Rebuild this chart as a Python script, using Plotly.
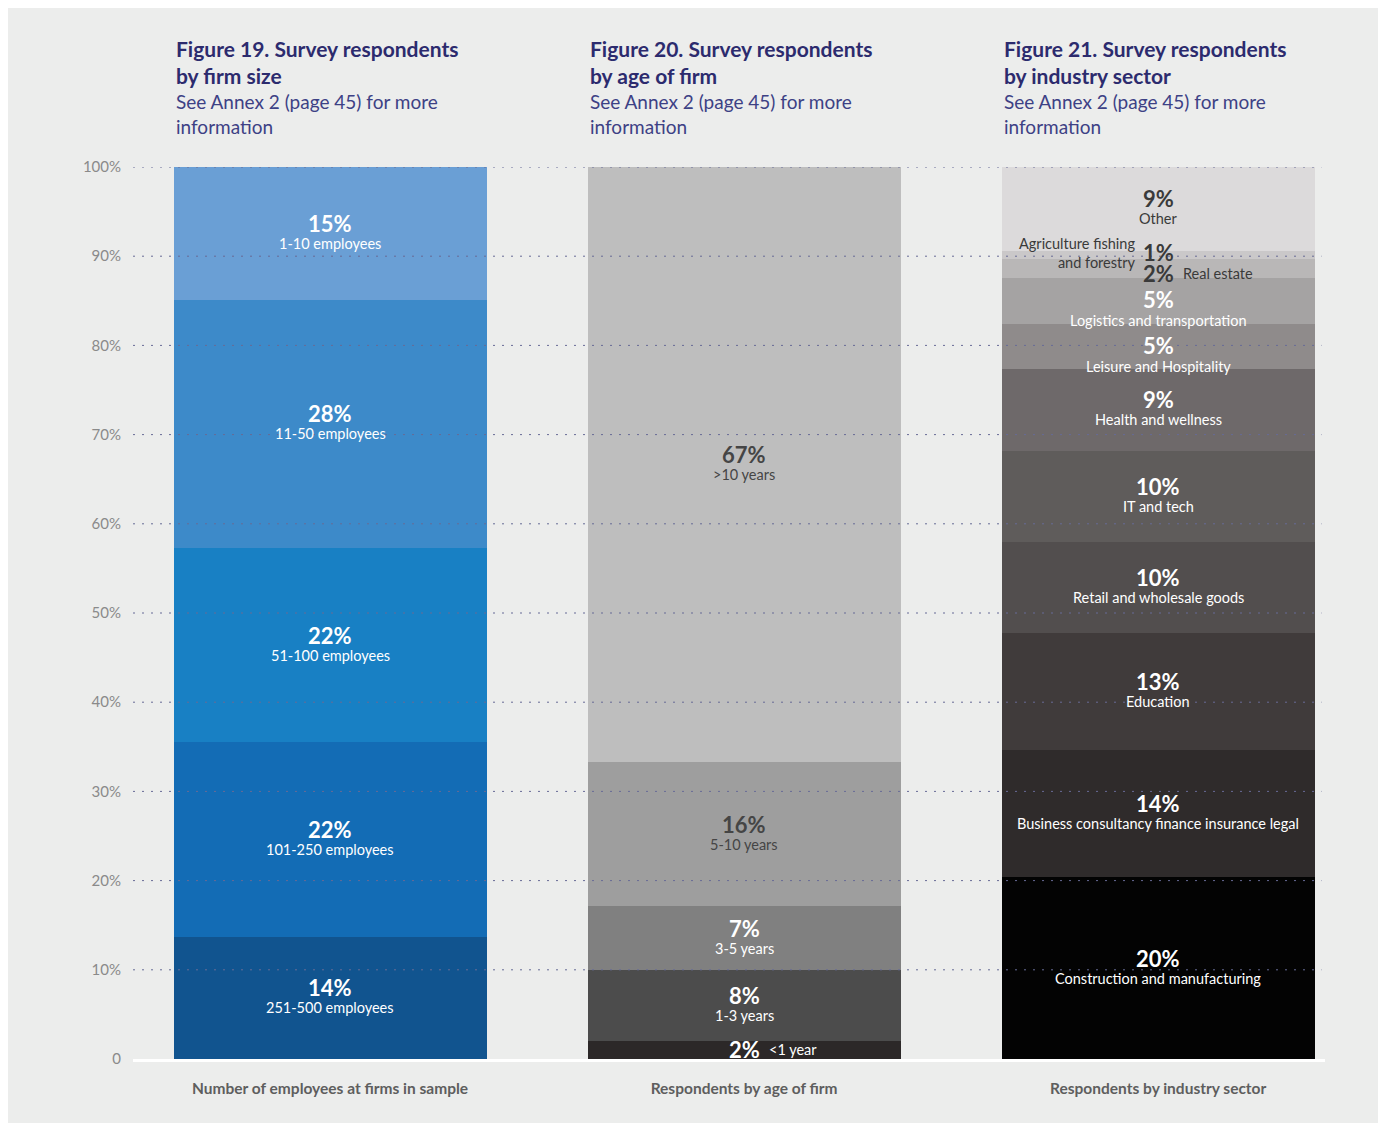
import plotly.graph_objects as go

# ----- Data (bottom segment first) ----- #

bar_names = ["Number of employees at firms in sample",
             "Respondents by age of firm",
             "Respondents by industry sector"]

titles = ["Figure 19. Survey respondents<br>by firm size",
          "Figure 20. Survey respondents<br>by age of firm",
          "Figure 21. Survey respondents<br>by industry sector"]
subtitle = "See Annex 2 (page 45) for more<br>information"

size_labels = ["251-500 employees", "101-250 employees", "51-100 employees",
               "11-50 employees", "1-10 employees"]
size_values = [13.7, 21.8, 21.8, 27.8, 14.9]

age_labels = ["<1 year", "1-3 years", "3-5 years", "5-10 years", ">10 years"]
age_values = [2.0, 8.0, 7.1, 16.2, 66.7]

sector_labels = ["Construction and manufacturing",
                 "Business consultancy finance insurance legal",
                 "Education", "Retail and wholesale goods", "IT and tech",
                 "Health and wellness", "Leisure and Hospitality",
                 "Logistics and transportation", "Real estate",
                 "Agriculture fishing<br>and forestry", "Other"]
sector_values = [20.4, 14.2, 13.2, 10.2, 10.2, 9.2, 5.0, 5.2, 2.1, 0.9, 9.4]

y_ticks = [0, 10, 20, 30, 40, 50, 60, 70, 80, 90, 100]
y_ticktext = ["0", "10%", "20%", "30%", "40%", "50%", "60%", "70%", "80%", "90%", "100%"]

# ----- Styles ----- #

size_colors = ["#11548f", "#136cb5", "#1880c4", "#3d8ac9", "#6a9fd5"]
age_colors = ["#2c2828", "#4c4c4c", "#808080", "#9e9e9e", "#bebebe"]
sector_colors = ["#030303", "#2f2b2b", "#403b3b", "#524e4e", "#5f5c5b", "#6e696a",
                 "#8f8b8b", "#a5a3a3", "#b9b7b7", "#cac8c9", "#dcdadb"]

size_text = ["white"] * 5
age_text = ["white", "white", "white", "#454545", "#454545"]
sector_text = ["white"] * 8 + ["#3a3a3a", "#3a3a3a", "#3a3a3a"]

# label placement: c = stacked under pct, r = right of pct, l = left of pct
size_mode = ["c"] * 5
age_mode = ["r", "c", "c", "c", "c"]
sector_mode = ["c"] * 8 + ["r", "l", "c"]

FONT = "Lato"
bar_w = 0.756

groups = [
    (size_labels, size_values, size_colors, size_text, size_mode),
    (age_labels, age_values, age_colors, age_text, age_mode),
    (sector_labels, sector_values, sector_colors, sector_text, sector_mode),
]

fig = go.Figure()
annotations = []

for i, (labels, values, colors, tcolors, modes) in enumerate(groups):
    cum = 0
    for lab, v, c, tc, m in zip(labels, values, colors, tcolors, modes):
        fig.add_trace(go.Bar(x=[i], y=[v], width=bar_w, marker_color=c,
                             marker_line_width=0, showlegend=False,
                             hoverinfo="skip"))
        yc = cum + v / 2
        cum += v
        pct = "<b>%d%%</b>" % round(v)
        if m == "c":
            small = v < 6
            annotations.append(dict(x=i, y=yc, text=pct, showarrow=False,
                                    yanchor="middle", yshift=1 if small else 10,
                                    font=dict(family=FONT, size=22, color=tc)))
            annotations.append(dict(x=i, y=yc, text=lab, showarrow=False,
                                    yanchor="middle", yshift=-20 if small else -10,
                                    font=dict(family=FONT, size=14.5, color=tc)))
        else:
            # small slices: label sits beside the percentage
            ys = 1
            if i == 2:
                ys = -5 if m == "r" else 2
            annotations.append(dict(x=i, y=yc, text=pct, showarrow=False,
                                    yanchor="middle", yshift=ys,
                                    font=dict(family=FONT, size=22, color=tc)))
            annotations.append(dict(x=i, y=yc, text=lab, showarrow=False,
                                    yanchor="middle",
                                    xanchor="left" if m == "r" else "right",
                                    align="right" if m == "l" else "left",
                                    xshift=23 if m == "r" else -21,
                                    yshift=ys,
                                    font=dict(family=FONT, size=14.5, color=tc)))

    # titles above each bar
    annotations.append(dict(x=i - bar_w / 2, y=1.149, xref="x", yref="paper",
                            xanchor="left", yanchor="top", align="left",
                            xshift=0, text="<b>" + titles[i] + "</b>",
                            showarrow=False,
                            font=dict(family=FONT, size=21, color="#2c2b6e")))
    annotations.append(dict(x=i - bar_w / 2, y=1.089, xref="x", yref="paper",
                            xanchor="left", yanchor="top", align="left",
                            xshift=0, text=subtitle, showarrow=False,
                            font=dict(family=FONT, size=19, color="#3d4185")))

# dotted gridlines drawn over the bars
shapes = []
for t in y_ticks[1:]:
    shapes.append(dict(type="line", xref="paper", x0=0, x1=0.997, yref="y",
                       y0=t, y1=t, layer="above",
                       line=dict(color="#676b96", width=1, dash="2px,7px")))

fig.update_layout(
    width=1370, height=1115,
    margin=dict(l=125, r=53, t=159, b=64),
    barmode="stack",
    bargap=0,
    paper_bgcolor="#ecedec",
    plot_bgcolor="rgba(0,0,0,0)",
    font=dict(family=FONT),
    annotations=annotations,
    shapes=shapes,
)

fig.update_xaxes(range=[-0.476, 2.403], tickvals=[0, 1, 2],
                 ticktext=["<b>" + n + "</b>" for n in bar_names],
                 showgrid=False, zeroline=False,
                 showline=True, linecolor="white", linewidth=3,
                 ticks="outside", ticklen=13, tickcolor="rgba(0,0,0,0)",
                 tickfont=dict(family=FONT, size=15.5, color="#5e5e5e"))

fig.update_yaxes(range=[0, 100], tickvals=y_ticks, ticktext=y_ticktext,
                 showgrid=False, zeroline=False, showline=False,
                 ticks="outside", ticklen=8, tickcolor="rgba(0,0,0,0)",
                 tickfont=dict(family=FONT, size=15, color="#8a8a8a"))

fig.write_html("out.html")
